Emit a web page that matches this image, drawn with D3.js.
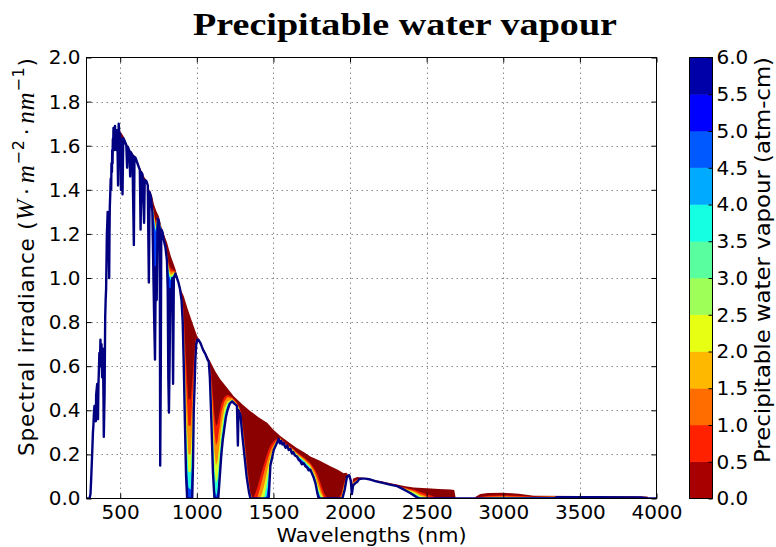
<!DOCTYPE html>
<html>
<head>
<meta charset="utf-8">
<script src="https://cdn.jsdelivr.net/npm/d3@7"></script>
<style>
  body { margin: 0; background: #fff; }
  svg text { font-family: "DejaVu Sans", sans-serif; fill: #000; }
</style>
</head>
<body>
<svg id="chart" width="776" height="547"></svg>
<script>
// spectral irradiance, precipitable water 6.0 atm-cm  [wavelength nm, W m-2 nm-1]
var wetSpectrum = [
  [280,0],[300,0],[306,0.02],[310,0.08],[314,0.15],[318,0.22],[322,0.30],[325,0.33],[328,0.38],[332,0.42],
  [335,0.36],[338,0.40],[341,0.35],[343,0.47],[347,0.50],[350,0.52],[353,0.42],[355,0.36],[358,0.52],[360,0.56],
  [364,0.66],[368,0.62],[371,0.72],[375,0.60],[378,0.70],[382,0.55],[385,0.68],[388,0.62],[391,0.45],[393,0.28],
  [396,0.40],[398,0.48],[402,0.82],[405,0.90],[408,0.95],[411,1.10],[413,1.20],[416,1.25],[418,1.30],[421,1.22],
  [423,1.25],[426,1.10],[428,1.00],[430,1.20],[432,1.32],[435,1.38],[438,1.45],[441,1.40],[443,1.52],[446,1.48],
  [448,1.58],[450,1.52],[452,1.63],[454,1.58],[456,1.68],[458,1.62],[461,1.58],[463,1.66],[466,1.69],[469,1.60],
  [472,1.64],[475,1.58],[478,1.67],[482,1.62],[486,1.42],[490,1.70],[495,1.64],[500,1.655],[505,1.40],[510,1.63],
  [515,1.38],[520,1.635],[530,1.62],[540,1.60],[545,1.50],[550,1.595],[560,1.575],[565,1.46],[570,1.57],[580,1.555],
  [589,1.15],[593,1.55],[600,1.545],[610,1.525],[620,1.505],[628,1.49],[633,1.22],[638,1.48],[645,1.47],[656,1.25],
  [660,1.445],[670,1.44],[680,1.42],[687,0.98],[692,1.39],[700,1.37],[710,1.30],[717,1.00],[722,0.80],[727,0.63],
  [732,1.05],[738,0.90],[745,1.27],[752,1.26],[758,1.20],[761,0.15],[765,0.60],[768,1.22],[775,1.21],[785,1.17],
  [795,1.14],[805,1.08],[810,0.95],[814,0.55],[818,0.39],[822,0.60],[827,0.95],[834,0.85],[840,1.00],[845,0.52],
  [850,1.00],[860,1.02],[870,1.00],[880,0.98],[890,0.95],[900,0.90],[908,0.80],[915,0.60],[922,0.35],[930,0.10],
  [937,0],[970,0],[975,0.15],[980,0.40],[985,0.50],[990,0.62],[996,0.70],[1002,0.72],[1010,0.72],[1024,0.705],
  [1040,0.675],[1056,0.655],[1070,0.63],[1078,0.62],[1085,0.55],[1095,0.35],[1105,0.12],[1115,0],[1140,0],[1150,0.10],
  [1160,0.20],[1170,0.27],[1180,0.32],[1190,0.37],[1200,0.40],[1215,0.43],[1230,0.44],[1245,0.43],[1262,0.42],[1268,0.24],
  [1272,0.40],[1285,0.38],[1295,0.30],[1310,0.20],[1325,0.10],[1340,0.03],[1350,0],[1469,0],[1475,0.08],[1480,0.15],
  [1490,0.18],[1502,0.22],[1515,0.24],[1534,0.27],[1542,0.25],[1550,0.262],[1558,0.245],[1567,0.252],[1575,0.235],[1580,0.23],
  [1590,0.24],[1600,0.22],[1611,0.225],[1620,0.205],[1630,0.21],[1640,0.195],[1654,0.19],[1665,0.175],[1675,0.17],[1685,0.155],
  [1697,0.16],[1710,0.145],[1720,0.14],[1730,0.128],[1741,0.13],[1760,0.10],[1774,0.07],[1785,0.03],[1795,0],[1950,0],
  [1965,0.04],[1980,0.10],[1995,0.105],[2005,0.08],[2012,0.02],[2020,0.06],[2035,0.07],[2046,0.075],[2060,0.088],[2079,0.09],
  [2100,0.09],[2133,0.086],[2170,0.078],[2220,0.07],[2260,0.063],[2307,0.056],[2340,0.045],[2372,0.033],[2395,0.024],[2415,0.015],
  [2448,0],[3330,0],[3350,0.006],[3600,0.006],[3900,0.005],[3940,0],[4000,0]
];

// spectral irradiance, dry atmosphere (0.0 atm-cm), top of the red envelope
var drySpectrum = [
  [490,1.69],[500,1.665],[520,1.645],[540,1.615],[560,1.585],[580,1.565],[600,1.55],[620,1.515],[643,1.48],[660,1.455],
  [676,1.44],[690,1.40],[700,1.385],[709,1.37],[720,1.335],[735,1.305],[752,1.28],[770,1.23],[790,1.19],[806,1.16],
  [830,1.10],[861,1.04],[880,0.99],[900,0.94],[915,0.917],[940,0.86],[960,0.82],[980,0.78],[1000,0.74],[1024,0.71],
  [1050,0.67],[1089,0.62],[1120,0.577],[1154,0.54],[1200,0.50],[1241,0.464],[1300,0.425],[1350,0.396],[1400,0.37],[1459,0.343],
  [1500,0.312],[1545,0.283],[1600,0.255],[1650,0.23],[1700,0.21],[1741,0.19],[1800,0.172],[1872,0.146],[1920,0.13],[1958,0.115],
  [1975,0.117],[1995,0.106],[2005,0.10],[2012,0.05],[2019,0.09],[2046,0.098],[2089,0.094],[2150,0.085],[2198,0.079],[2250,0.071],
  [2307,0.063],[2360,0.055],[2415,0.05],[2502,0.046],[2580,0.043],[2654,0.041],[2680,0.038],[2690,0],[2810,0],[2820,0.008],
  [2850,0.02],[2900,0.025],[3000,0.026],[3100,0.021],[3200,0.012],[3500,0.011],[3800,0.010],[3940,0.009],[3950,0],[4000,0]
];

// intermediate water contents (atm-cm)
var midPw = [0.5, 1, 2, 3, 4.5];

// wavelength, irradiance at pw 0.5, 1, 2, 3, 4.5
var midLevels = [
  [700, 1.378, 1.376, 1.374, 1.373, 1.371],
  [715, 1.322, 1.315, 1.307, 1.301, 1.295],
  [730, 1.258, 1.246, 1.231, 1.221, 1.209],
  [745, 1.281, 1.278, 1.276, 1.274, 1.272],
  [760, 1.248, 1.246, 1.244, 1.243, 1.241],
  [775, 1.215, 1.214, 1.213, 1.212, 1.211],
  [790, 1.176, 1.173, 1.168, 1.166, 1.162],
  [805, 1.12, 1.111, 1.101, 1.094, 1.086],
  [818, 1.064, 1.05, 1.034, 1.023, 1.01],
  [830, 1.044, 1.03, 1.014, 1.003, 0.99],
  [845, 1.037, 1.029, 1.02, 1.013, 1.006],
  [860, 1.031, 1.028, 1.026, 1.024, 1.022],
  [880, 0.985, 0.984, 0.983, 0.982, 0.981],
  [900, 0.921, 0.917, 0.911, 0.908, 0.903],
  [915, 0.85, 0.80, 0.74, 0.69, 0.64],
  [930, 0.62, 0.52, 0.40, 0.30, 0.18],
  [945, 0.45, 0.33, 0.20, 0.12, 0.05],
  [960, 0.45, 0.33, 0.20, 0.12, 0.04],
  [975, 0.58, 0.50, 0.40, 0.32, 0.22],
  [990, 0.72, 0.70, 0.67, 0.66, 0.64],
  [1005, 0.728, 0.726, 0.724, 0.723, 0.721],
  [1025, 0.708, 0.707, 0.706, 0.706, 0.705],
  [1050, 0.668, 0.667, 0.666, 0.666, 0.665],
  [1070, 0.635, 0.634, 0.633, 0.632, 0.631],
  [1085, 0.61, 0.60, 0.59, 0.575, 0.56],
  [1095, 0.56, 0.52, 0.47, 0.42, 0.38],
  [1105, 0.47, 0.41, 0.34, 0.27, 0.19],
  [1115, 0.38, 0.30, 0.21, 0.13, 0.05],
  [1125, 0.33, 0.24, 0.15, 0.07, 0.01],
  [1135, 0.34, 0.26, 0.17, 0.09, 0.03],
  [1145, 0.38, 0.31, 0.23, 0.16, 0.10],
  [1160, 0.43, 0.39, 0.33, 0.28, 0.24],
  [1180, 0.46, 0.44, 0.41, 0.38, 0.35],
  [1200, 0.47, 0.46, 0.44, 0.43, 0.415],
  [1230, 0.46, 0.455, 0.45, 0.447, 0.443],
  [1260, 0.437, 0.433, 0.428, 0.425, 0.422],
  [1275, 0.42, 0.415, 0.41, 0.405, 0.40],
  [1290, 0.39, 0.38, 0.37, 0.36, 0.35],
  [1310, 0.28, 0.26, 0.24, 0.225, 0.21],
  [1330, 0.14, 0.12, 0.10, 0.09, 0.08],
  [1350, 0.03, 0.02, 0.01, 0.005, 0],
  [1365, 0, 0, 0, 0, 0],
  [1380, 0.02, 0, 0, 0, 0],
  [1395, 0.05, 0.005, 0, 0, 0],
  [1410, 0.09, 0.04, 0, 0, 0],
  [1425, 0.125, 0.08, 0.02, 0, 0],
  [1440, 0.16, 0.12, 0.06, 0.005, 0],
  [1455, 0.195, 0.16, 0.11, 0.06, 0.01],
  [1470, 0.225, 0.195, 0.16, 0.12, 0.08],
  [1480, 0.24, 0.215, 0.19, 0.175, 0.16],
  [1490, 0.25, 0.23, 0.21, 0.195, 0.185],
  [1505, 0.262, 0.25, 0.24, 0.232, 0.228],
  [1520, 0.27, 0.265, 0.26, 0.256, 0.253],
  [1545, 0.275, 0.273, 0.27, 0.268, 0.266],
  [1580, 0.249, 0.245, 0.24, 0.237, 0.233],
  [1620, 0.231, 0.228, 0.223, 0.221, 0.217],
  [1660, 0.206, 0.202, 0.196, 0.193, 0.188],
  [1700, 0.186, 0.181, 0.174, 0.17, 0.164],
  [1740, 0.162, 0.155, 0.147, 0.141, 0.135],
  [1770, 0.133, 0.122, 0.108, 0.099, 0.088],
  [1790, 0.105, 0.085, 0.06, 0.045, 0.03],
  [1810, 0.065, 0.04, 0.02, 0.005, 0],
  [1830, 0.025, 0.005, 0, 0, 0],
  [1850, 0, 0, 0, 0, 0],
  [1900, 0, 0, 0, 0, 0],
  [1930, 0.005, 0, 0, 0, 0],
  [1945, 0.025, 0.015, 0.005, 0, 0],
  [1960, 0.07, 0.06, 0.05, 0.042, 0.035],
  [1980, 0.112, 0.11, 0.107, 0.105, 0.102],
  [2000, 0.1, 0.1, 0.1, 0.1, 0.1],
  [2012, 0.045, 0.04, 0.035, 0.03, 0.025],
  [2020, 0.076, 0.073, 0.068, 0.066, 0.062],
  [2050, 0.089, 0.086, 0.084, 0.082, 0.08],
  [2100, 0.092, 0.091, 0.091, 0.091, 0.09],
  [2150, 0.084, 0.084, 0.0835, 0.0835, 0.083],
  [2200, 0.075, 0.074, 0.073, 0.072, 0.072],
  [2250, 0.068, 0.067, 0.066, 0.065, 0.065],
  [2300, 0.061, 0.06, 0.059, 0.058, 0.058],
  [2340, 0.052, 0.05, 0.049, 0.047, 0.046],
  [2380, 0.045, 0.042, 0.038, 0.035, 0.032],
  [2420, 0.04, 0.034, 0.028, 0.022, 0.016],
  [2460, 0.03, 0.02, 0.012, 0.006, 0.002],
  [2500, 0.02, 0.01, 0.004, 0, 0],
  [2550, 0.008, 0, 0, 0, 0],
  [2600, 0, 0, 0, 0, 0],
  [2685, 0, 0, 0, 0, 0],
  [2750, null, null, null, null, null],
  [2815, 0.003, 0.002, 0.001, 0, 0],
  [2900, 0.012, 0.008, 0.005, 0.003, 0.001],
  [3000, 0.015, 0.01, 0.007, 0.004, 0.002],
  [3100, 0.012, 0.008, 0.006, 0.004, 0.002],
  [3200, 0.008, 0.007, 0.0065, 0.006, 0.005],
  [3400, 0.010, 0.009, 0.008, 0.007, 0.0065],
  [3800, 0.009, 0.0085, 0.008, 0.007, 0.0063],
  [3945, 0, 0, 0, 0, 0]
];

var xTicks = [500, 1000, 1500, 2000, 2500, 3000, 3500, 4000];
var yTicks = [0.0, 0.2, 0.4, 0.6, 0.8, 1.0, 1.2, 1.4, 1.6, 1.8, 2.0];
var cbarTicks = [0.0, 0.5, 1.0, 1.5, 2.0, 2.5, 3.0, 3.5, 4.0, 4.5, 5.0, 5.5, 6.0];

// colours (jet reversed)
var dryColor = "#8b0000";
var levelColors = ["#f01c00", "#ff8c00", "#d8ff28", "#28ffd8", "#0040ff"];
var wetColor = "#000080";
var cbarColors = ["#a80000", "#ff2100", "#ff6c00", "#ffb800", "#e6ff12", "#9eff59",
                  "#59ff9e", "#15ffe2", "#00aaff", "#0058ff", "#0000ff", "#0000a8"];

var W = 776, H = 547;
var plot = { left: 86.5, right: 656.5, top: 57.5, bottom: 498.5 };
var cb = { left: 689.5, right: 712.5 };
var tickFont = 20;

var svg = d3.select("#chart");

var x = d3.scaleLinear().domain([280, 4000]).range([plot.left, plot.right]);
var y = d3.scaleLinear().domain([0, 2]).range([plot.bottom, plot.top]);
var yc = d3.scaleLinear().domain([0, 6]).range([plot.bottom, plot.top]);

var areaOf = d3.area()
    .defined(function (d) { return d[1] != null; })
    .x(function (d) { return x(d[0]); })
    .y0(y(0))
    .y1(function (d) { return y(d[1]); });
var lineOf = d3.line()
    .x(function (d) { return x(d[0]); })
    .y(function (d) { return y(d[1]); });

var defs = svg.append("defs");
defs.append("clipPath").attr("id", "plot-clip")
  .append("rect")
    .attr("x", plot.left).attr("y", plot.top)
    .attr("width", plot.right - plot.left).attr("height", plot.bottom - plot.top);

// everything below the wettest curve stays white
var mask = defs.append("mask").attr("id", "above-wet")
    .attr("maskUnits", "userSpaceOnUse")
    .attr("x", 0).attr("y", 0).attr("width", W).attr("height", H);
mask.append("rect").attr("width", W).attr("height", H).attr("fill", "white");
mask.append("path").datum(wetSpectrum).attr("d", areaOf).attr("fill", "black");

// grid
var grid = svg.append("g")
    .attr("stroke", "#8a8a8a")
    .attr("stroke-width", 1)
    .attr("stroke-dasharray", "1.5,3.5");
grid.selectAll("line.gx")
  .data(xTicks.filter(function (v) { return v < 4000; }))
  .join("line").attr("class", "gx")
    .attr("x1", function (d) { return Math.round(x(d)) + 0.5; })
    .attr("x2", function (d) { return Math.round(x(d)) + 0.5; })
    .attr("y1", plot.top).attr("y2", plot.bottom);
grid.selectAll("line.gy")
  .data(yTicks.filter(function (v) { return v > 0 && v < 2; }))
  .join("line").attr("class", "gy")
    .attr("y1", function (d) { return Math.round(y(d)) + 0.5; })
    .attr("y2", function (d) { return Math.round(y(d)) + 0.5; })
    .attr("x1", plot.left).attr("x2", plot.right);

// coloured spread between dry and wet curves
var bands = svg.append("g")
    .attr("clip-path", "url(#plot-clip)")
  .append("g")
    .attr("mask", "url(#above-wet)");
bands.append("path").datum(drySpectrum).attr("fill", dryColor).attr("d", areaOf);
midPw.forEach(function (pw, k) {
  var pts = midLevels.map(function (r) { return [r[0], r[k + 1]]; });
  bands.append("path").datum(pts).attr("fill", levelColors[k]).attr("d", areaOf);
});

svg.append("g").attr("clip-path", "url(#plot-clip)")
  .append("path").datum(wetSpectrum)
    .attr("fill", "none")
    .attr("stroke", wetColor)
    .attr("stroke-width", 2.4)
    .attr("stroke-linejoin", "round")
    .attr("d", lineOf);

// axes
function styleAxis(g) {
  g.select(".domain").remove();
  g.attr("font-size", null).attr("font-family", null);
  g.selectAll(".tick line").attr("stroke", "#000");
  g.selectAll("text").attr("font-size", tickFont).attr("fill", "#000");
}

svg.append("g")
    .attr("transform", "translate(0," + plot.bottom + ")")
    .call(d3.axisBottom(x).tickValues(xTicks).tickSize(-5).tickPadding(6).tickFormat(d3.format("d")))
    .call(styleAxis);
svg.append("g")
    .attr("transform", "translate(0," + plot.top + ")")
    .call(d3.axisTop(x).tickValues(xTicks).tickSize(-5).tickFormat(""))
    .call(styleAxis);
svg.append("g")
    .attr("transform", "translate(" + plot.left + ",0)")
    .call(d3.axisLeft(y).tickValues(yTicks).tickSize(-5).tickPadding(6).tickFormat(d3.format(".1f")))
    .call(styleAxis);
svg.append("g")
    .attr("transform", "translate(" + plot.right + ",0)")
    .call(d3.axisRight(y).tickValues(yTicks).tickSize(-5).tickFormat(""))
    .call(styleAxis);

svg.append("rect")
    .attr("x", plot.left).attr("y", plot.top)
    .attr("width", plot.right - plot.left).attr("height", plot.bottom - plot.top)
    .attr("fill", "none").attr("stroke", "#000").attr("stroke-width", 1);

// colorbar
var cbar = svg.append("g");
cbar.selectAll("rect.bin")
  .data(cbarTicks.slice(0, -1))
  .join("rect").attr("class", "bin")
    .attr("x", cb.left)
    .attr("width", cb.right - cb.left)
    .attr("y", function (d, i) { return yc(cbarTicks[i + 1]); })
    .attr("height", function (d, i) { return yc(d) - yc(cbarTicks[i + 1]); })
    .attr("fill", function (d, i) { return cbarColors[i]; })
    .attr("stroke", function (d, i) { return cbarColors[i]; })
    .attr("stroke-width", 0.5);
cbar.append("rect")
    .attr("x", cb.left).attr("y", plot.top)
    .attr("width", cb.right - cb.left).attr("height", plot.bottom - plot.top)
    .attr("fill", "none").attr("stroke", "#000").attr("stroke-width", 1);
cbar.append("g")
    .attr("transform", "translate(" + cb.right + ",0)")
    .call(d3.axisRight(yc).tickValues(cbarTicks).tickSize(-4).tickPadding(4).tickFormat(d3.format(".1f")))
    .call(styleAxis);

// titles
svg.append("text")
    .attr("x", 405).attr("y", 35)
    .attr("text-anchor", "middle")
    .style("font-family", "'Liberation Serif', serif")
    .attr("font-weight", "bold")
    .attr("font-size", 32)
    .attr("textLength", 424)
    .attr("lengthAdjust", "spacingAndGlyphs")
    .text("Precipitable water vapour");

svg.append("text")
    .attr("x", (plot.left + plot.right) / 2).attr("y", 541.5)
    .attr("text-anchor", "middle")
    .attr("font-size", 19)
    .attr("textLength", 190)
    .attr("lengthAdjust", "spacingAndGlyphs")
    .text("Wavelengths (nm)");

var mathFont = "'Liberation Serif', serif";
var ylab = svg.append("text")
    .attr("transform", "translate(33.5,257) rotate(-90)")
    .attr("text-anchor", "middle")
    .attr("font-size", 21.5)
    .attr("textLength", 398)
    .attr("lengthAdjust", "spacing");
ylab.append("tspan").text("Spectral irradiance (");
ylab.append("tspan").style("font-family", mathFont).attr("font-style", "italic").attr("font-size", 25).text("W");
ylab.append("tspan").attr("dx", 4).text("\u00b7");
ylab.append("tspan").attr("dx", 4).style("font-family", mathFont).attr("font-style", "italic").attr("font-size", 25).text("m");
ylab.append("tspan").attr("font-size", 16).attr("dy", -10).text("\u22122");
ylab.append("tspan").attr("dy", 10).attr("dx", 4).text("\u00b7");
ylab.append("tspan").attr("dx", 4).style("font-family", mathFont).attr("font-style", "italic").attr("font-size", 25).text("nm");
ylab.append("tspan").attr("font-size", 16).attr("dy", -10).text("\u22121");
ylab.append("tspan").attr("dy", 10).text(")");

svg.append("text")
    .attr("transform", "translate(770,260) rotate(-90)")
    .attr("text-anchor", "middle")
    .attr("font-size", 21)
    .attr("textLength", 406)
    .attr("lengthAdjust", "spacingAndGlyphs")
    .text("Precipitable water vapour (atm-cm)");
</script>
</body>
</html>
